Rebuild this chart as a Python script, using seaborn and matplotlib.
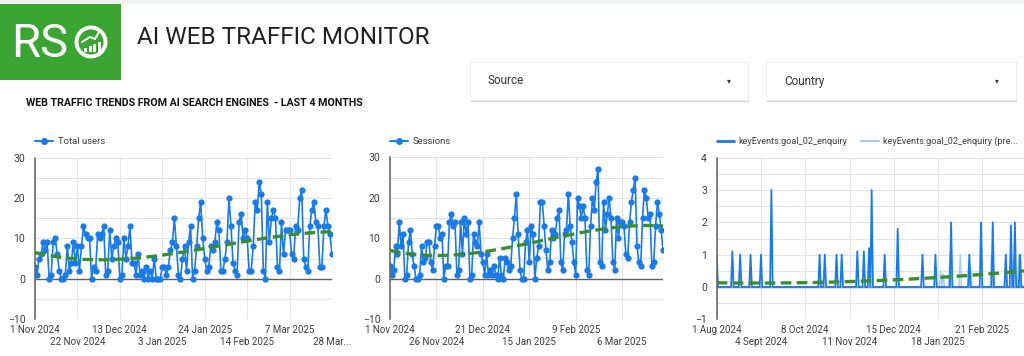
import numpy as np
import pandas as pd
import matplotlib
matplotlib.use('Agg')
import matplotlib.pyplot as plt
from matplotlib.patches import Rectangle, Circle
from matplotlib.lines import Line2D
import seaborn as sns

# ==========================================
# data
# ==========================================
users_start = '2024-11-01'
total_users = [3, 1, 5, 6, 9, 7, 9, 0, 1, 9, 10, 6, 2, 0, 0, 1, 8, 2, 4, 9, 4, 8,
               2, 8, 13, 11, 10, 10, 0, 3, 2, 11, 10, 11, 13, 1, 2, 12, 5, 8, 10, 9, 0, 1,
               10, 5, 8, 13, 4, 4, 1, 6, 1, 2, 0, 3, 0, 2, 0, 5, 0, 0, 0, 3,
               3, 1, 3, 7, 9, 15, 8, 1, 0, 5, 8, 2, 9, 13, 0, 2, 8, 15, 19, 10, 5,
               2, 3, 8, 7, 9, 14, 12, 2, 2, 5, 9, 20, 13, 4, 2, 1, 14, 16, 10, 12, 10,
               2, 2, 8, 19, 17, 24, 21, 2, 0, 19, 9, 15, 17, 15, 3, 2, 14, 6, 12, 12, 12,
               6, 5, 13, 12, 20, 22, 5, 3, 2, 13, 17, 19, 14, 13, 3, 3, 13, 17, 13, 11, 6]
sessions = [3, 1, 2, 8, 6, 14, 8, 11, 0, 1, 9, 12, 6, 3, 0, 0, 1, 8, 4, 5, 9, 9, 4, 2,
            8, 13, 13, 10, 11, 0, 3, 3, 14, 16, 13, 14, 1, 2, 14, 6, 15, 11, 14, 0, 1,
            11, 9, 8, 14, 6, 4, 1, 6, 1, 2, 1, 3, 1, 0, 5, 1, 0, 5, 4, 2, 3,
            10, 15, 21, 11, 2, 0, 0, 9, 12, 4, 13, 11, 0, 5, 8, 19, 19, 13, 7, 2, 4,
            12, 10, 11, 15, 17, 4, 2, 11, 12, 21, 13, 9, 4, 1, 20, 18, 15, 18, 15, 2, 1,
            13, 20, 17, 24, 27, 4, 3, 19, 12, 16, 20, 15, 4, 2, 15, 10, 14, 14, 13, 6, 5,
            14, 19, 22, 25, 8, 4, 3, 15, 22, 20, 15, 16, 3, 4, 13, 19, 16, 12, 7]

users_ticks = ['2024-11-01', '2024-11-22', '2024-12-13', '2025-01-03',
               '2025-01-24', '2025-02-14', '2025-03-07', '2025-03-28']
users_labels = ['1 Nov 2024', '22 Nov 2024', '13 Dec 2024', '3 Jan 2025',
                '24 Jan 2025', '14 Feb 2025', '7 Mar 2025', '28 Mar...']
sessions_ticks = ['2024-11-01', '2024-11-26', '2024-12-21', '2025-01-15',
                  '2025-02-09', '2025-03-06']
sessions_labels = ['1 Nov 2024', '26 Nov 2024', '21 Dec 2024', '15 Jan 2025',
                   '9 Feb 2025', '6 Mar 2025']

events_start = '2024-08-01'
events_end = '2025-03-28'
event_dates = ['2024-08-01', '2024-08-13', '2024-08-19', '2024-08-27', '2024-09-04',
               '2024-09-12', '2024-10-19', '2024-10-23', '2024-11-01', '2024-11-05',
               '2024-11-17', '2024-11-22', '2024-11-26', '2024-11-28', '2024-12-08',
               '2024-12-18', '2025-01-06', '2025-01-16', '2025-01-28', '2025-02-11',
               '2025-02-20', '2025-03-01', '2025-03-11', '2025-03-15', '2025-03-18',
               '2025-03-22']
event_vals = [1, 1.1, 1, 1, 1, 3, 1, 1, 1, 1, 1.1, 1.1, 1.2, 3, 1, 1.8,
              1, 1, 2, 1, 2, 2, 1, 1.9, 2, 1]
prev_dates = ['2025-01-20', '2025-01-22', '2025-01-27', '2025-02-04',
              '2025-02-12', '2025-02-28', '2025-03-11', '2025-03-21']
prev_vals = [0.5, 0.4, 1, 1, 0.6, 1, 1, 1]
# trend line as shown by the dashboard (day offset from 1 Aug 2024, value)
trend_days = [0, 60, 118, 150, 174, 205, 236]
trend_vals = [0.12, 0.15, 0.19, 0.24, 0.30, 0.38, 0.51]
events_ticks = ['2024-08-01', '2024-09-04', '2024-10-08', '2024-11-11',
                '2024-12-15', '2025-01-18', '2025-02-21']
events_labels = ['1 Aug 2024', '4 Sept 2024', '8 Oct 2024', '11 Nov 2024',
                 '15 Dec 2024', '18 Jan 2025', '21 Feb 2025']

# ==========================================
# style
# ==========================================
sns.set_theme(style='white')
plt.rcParams['font.family'] = ['Roboto', 'DejaVu Sans']

blue = '#1a7ae6'
light_blue = '#a9c9f5'
green = '#3a8d2f'
grid_c = '#e3e3e3'
axis_c = '#606060'
text_c = '#3c3c3c'

W, H = 1024, 356
fig = plt.figure(figsize=(W / 100, H / 100), dpi=100)
fig.patch.set_facecolor('white')


def fx(x):
    return x / W


def fy(y):
    return 1 - y / H


def prect(x0, y0, x1, y1, **kw):
    fig.add_artist(Rectangle((fx(x0), fy(y1)), fx(x1) - fx(x0), fy(y0) - fy(y1),
                             transform=fig.transFigure, **kw))


# --- header ---
prect(0, 0, W, 4, color='#f0f1f2', lw=0)
prect(0, 4, 121, 80, color='#3ba534', lw=0)
fig.text(fx(11), fy(57), 'RS', color='white', fontsize=34, va='baseline', ha='left')
fig.add_artist(Circle((0.91, (H - 42) / 100), 0.145, transform=fig.dpi_scale_trans,
                      fill=False, ec='white', lw=2.8))
for bx, bh in zip([84, 88.5, 93, 97.5], [4, 6, 8, 10]):
    prect(bx, 52 - bh, bx + 3, 52, color='white', lw=0)
fig.add_artist(Line2D([fx(82), fx(90), fx(95), fx(99)], [fy(42), fy(37), fy(39), fy(32)],
                      transform=fig.transFigure, color='white', lw=1.4))

fig.text(fx(137), fy(37), 'AI WEB TRAFFIC MONITOR', fontsize=17.5, color='#202124',
         va='center', ha='left')
fig.text(fx(26), fy(103), 'WEB TRAFFIC TRENDS FROM AI SEARCH ENGINES  - LAST 4 MONTHS',
         fontsize=7.7, fontweight='bold', color='#111111', va='center', ha='left')

for x0, x1, name in [(470, 748, 'Source'), (766, 1016, 'Country')]:
    prect(x0 + 1, 63, x1 + 1, 102, color='#d0d0d0', lw=0)
    prect(x0, 62, x1, 100, fc='white', ec='#ebebeb', lw=0.6)
    fig.text(fx(x0 + 18), fy(81), name, fontsize=8.5, color='#333333', va='center')
    fig.text(fx(x1 - 19), fy(81), '▾', fontsize=5.5, color='#333333', va='center',
             ha='center', family=['DejaVu Sans'])


def style_axes(ax, ymin, ymax, ymajor, yminor, ticks, labels, start, xmax):
    pos = [(pd.Timestamp(t) - pd.Timestamp(start)).days for t in ticks]
    ax.set_xlim(0, xmax)
    ax.set_ylim(ymin, ymax)
    # two label rows: even ticks on top row, odd ticks on second row
    ax.set_xticks(pos[::2])
    ax.set_xticklabels(labels[::2])
    ax.set_xticks(pos[1::2], minor=True)
    ax.set_xticklabels(labels[1::2], minor=True)
    ax.tick_params(axis='x', which='major', labelsize=7, labelcolor=text_c, length=0, pad=4.3)
    ax.tick_params(axis='x', which='minor', labelsize=7, labelcolor=text_c, length=0, pad=13)
    ax.set_yticks(np.arange(ymin, ymax + 0.01, ymajor))
    ax.set_yticks(np.arange(ymin, ymax + 0.01, yminor), minor=True)
    ax.tick_params(axis='y', which='major', labelsize=7.5, colors=text_c, length=0, pad=7)
    ax.tick_params(axis='y', which='minor', length=0)
    ax.grid(True, which='both', color=grid_c, lw=0.8)
    ax.set_axisbelow(True)
    for s in ['top', 'right', 'bottom']:
        ax.spines[s].set_visible(False)
    ax.spines['left'].set_color(axis_c)
    ax.spines['left'].set_linewidth(1.1)
    ax.axhline(0, color=axis_c, lw=1.0, zorder=1)
    ax.set_xlabel('')
    ax.set_ylabel('')


trend_kws = dict(color=green, lw=2.4, ls=(0, (3.2, 1.6)), zorder=5)
leg_kws = dict(loc='lower left', bbox_to_anchor=(0, 1.07), frameon=False, fontsize=6.8,
               handlelength=1.9, handletextpad=0.5, borderaxespad=0, borderpad=0,
               labelcolor=text_c)

# --- chart 1: total users ---
df_u = pd.DataFrame({'day': np.arange(len(total_users)), 'users': total_users})
ax1 = fig.add_axes([fx(35), fy(319), fx(332) - fx(35), fy(157.7) - fy(319)])
sns.lineplot(data=df_u, x='day', y='users', ax=ax1, color=blue, marker='o',
             markersize=4.5, markeredgewidth=0, linewidth=1.2, legend=False)
sns.regplot(data=df_u, x='day', y='users', ax=ax1, order=3, scatter=False, ci=None,
            line_kws=trend_kws)
style_axes(ax1, -10, 30, 10, 5, users_ticks, users_labels, users_start, len(total_users) - 1)
ax1.legend(handles=[Line2D([0], [0], color=blue, marker='o', ms=4, lw=1.4)],
           labels=['Total users'], **leg_kws)

# --- chart 2: sessions ---
df_s = pd.DataFrame({'day': np.arange(len(sessions)), 'sessions': sessions})
ax2 = fig.add_axes([fx(390), fy(319), fx(663) - fx(390), fy(157.3) - fy(319)])
sns.lineplot(data=df_s, x='day', y='sessions', ax=ax2, color=blue, marker='o',
             markersize=4.5, markeredgewidth=0, linewidth=1.2, legend=False)
sns.regplot(data=df_s, x='day', y='sessions', ax=ax2, order=3, scatter=False, ci=None,
            line_kws=trend_kws)
style_axes(ax2, -10, 30, 10, 5, sessions_ticks, sessions_labels, users_start, len(sessions) - 1)
ax2.legend(handles=[Line2D([0], [0], color=blue, marker='o', ms=4, lw=1.4)],
           labels=['Sessions'], **leg_kws)

# --- chart 3: key events ---
dates = pd.date_range(events_start, events_end, freq='D')
main = pd.Series(0.0, index=dates)
main.loc[pd.to_datetime(event_dates)] = event_vals
prev = pd.Series(0.0, index=dates)
prev.loc[pd.to_datetime(prev_dates)] = prev_vals
df_e = pd.DataFrame({'day': np.arange(len(dates)), 'main': main.values, 'prev': prev.values})
df_t = pd.DataFrame({'day': trend_days, 'trend': trend_vals})

ax3 = fig.add_axes([fx(716.7), fy(319.3), 1 - fx(716.7), fy(157.7) - fy(319.3)])
sns.lineplot(data=df_e, x='day', y='prev', ax=ax3, color=light_blue, linewidth=1.0, legend=False)
sns.lineplot(data=df_e, x='day', y='main', ax=ax3, color=blue, linewidth=1.3, legend=False)
sns.regplot(data=df_t, x='day', y='trend', ax=ax3, order=2, scatter=False, ci=None,
            line_kws=trend_kws)
style_axes(ax3, -1, 4, 1, 0.5, events_ticks, events_labels, events_start, 236)
leg3 = dict(leg_kws, fontsize=6.6, columnspacing=1.5)
ax3.legend(handles=[Line2D([0], [0], color=blue, lw=2), Line2D([0], [0], color=light_blue, lw=1.5)],
           labels=['keyEvents:goal_02_enquiry', 'keyEvents:goal_02_enquiry (pre...'],
           ncol=2, **leg3)

fig.savefig('out.png', dpi=100, facecolor='white')
